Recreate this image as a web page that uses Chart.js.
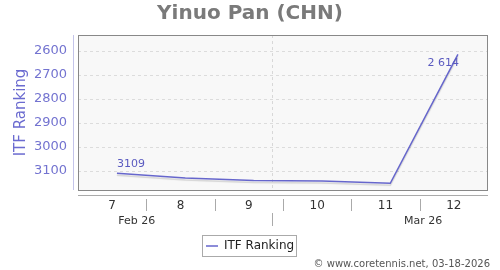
<!DOCTYPE html>
<html>
<head>
<meta charset="utf-8">
<script src="https://cdn.jsdelivr.net/npm/chart.js@4/dist/chart.umd.min.js"></script>
<style>
  html, body { margin: 0; padding: 0; background: #fff; }
  #wrap { width: 500px; height: 270px; position: relative; }
</style>
</head>
<body>
<div id="wrap"><canvas id="rankChart" width="500" height="270"></canvas></div>
<script>
// 資料：週次與 ITF 排名
const weekTicks = [7, 8, 9, 10, 11, 12];
const weekPos = [7.07, 8.07, 9.07, 10.07, 11.07, 12.06];
const itfRanking = [3109, 3129, 3139, 3142, 3151, 2614];
const rankTicks = [2600, 2700, 2800, 2900, 3000, 3100];
const monthLabels = ['Feb 26', 'Mar 26'];
const monthLabelPos = [7.36, 11.55];
const monthSplit = [9.34];

const lineColor = 'rgb(102, 102, 204)';
const FONT = 'DejaVu Sans, Verdana, sans-serif';

// 背景、外框、軸線、月份分隔等
const decoPlugin = {
  id: 'deco',
  beforeDraw(chart) {
    const { ctx, chartArea: a } = chart;
    ctx.save();
    ctx.fillStyle = '#f8f8f8';
    ctx.fillRect(a.left, a.top, a.right - a.left, a.bottom - a.top);
    ctx.restore();
  },
  beforeDatasetsDraw(chart) {
    const { ctx, chartArea: a, scales } = chart;
    ctx.save();
    // 月份分隔虛線
    ctx.strokeStyle = '#d8d8d8';
    ctx.setLineDash([3, 3]);
    ctx.lineWidth = 1;
    monthSplit.forEach(v => {
      const x = Math.round(scales.x.getPixelForValue(v)) + 0.5;
      ctx.beginPath(); ctx.moveTo(x, a.top); ctx.lineTo(x, a.bottom); ctx.stroke();
    });
    ctx.restore();
  },
  afterDraw(chart) {
    const { ctx, chartArea: a, scales } = chart;
    ctx.save();
    // 外框
    ctx.strokeStyle = '#888';
    ctx.lineWidth = 1;
    ctx.strokeRect(a.left + 0.5, a.top + 0.5, a.right - a.left - 1, a.bottom - a.top);
    // y 軸線
    ctx.strokeStyle = '#c4c4ea';
    ctx.beginPath(); ctx.moveTo(a.left - 4.5, a.top); ctx.lineTo(a.left - 4.5, a.bottom); ctx.stroke();
    // x 軸線
    ctx.strokeStyle = '#aaa';
    ctx.beginPath(); ctx.moveTo(a.left, a.bottom + 5.5); ctx.lineTo(a.right, a.bottom + 5.5); ctx.stroke();
    // 分隔刻度
    ctx.strokeStyle = '#aaa';
    for (let i = 0; i < weekTicks.length - 1; i++) {
      const x = Math.round(scales.x.getPixelForValue(weekTicks[i] + 0.5)) + 0.5;
      ctx.beginPath(); ctx.moveTo(x, a.bottom + 9); ctx.lineTo(x, a.bottom + 21); ctx.stroke();
    }
    // 月份分隔（軸下方）
    monthSplit.forEach(v => {
      const x = Math.round(scales.x.getPixelForValue(v)) + 0.5;
      ctx.beginPath(); ctx.moveTo(x, a.bottom + 23); ctx.lineTo(x, a.bottom + 36); ctx.stroke();
    });
    // 月份標籤
    ctx.fillStyle = '#333';
    ctx.font = '11px ' + FONT;
    ctx.textAlign = 'center';
    ctx.textBaseline = 'middle';
    monthLabels.forEach((t, i) => {
      ctx.fillText(t, scales.x.getPixelForValue(monthLabelPos[i]), a.bottom + 31);
    });
    // 資料標籤
    const meta = chart.getDatasetMeta(0);
    ctx.fillStyle = '#5a5ac0';
    ctx.font = '11px ' + FONT;
    const p0 = meta.data[0];
    ctx.textAlign = 'left';
    ctx.fillText(String(itfRanking[0]), p0.x, p0.y - 9);
    const pl = meta.data[itfRanking.length - 1];
    ctx.textAlign = 'right';
    ctx.fillText(itfRanking[itfRanking.length - 1].toLocaleString('fr-FR').replace(/\s/g, ' '), pl.x + 1, pl.y + 9);
    // 標題
    ctx.fillStyle = '#7a7a7a';
    ctx.font = 'bold 20px ' + FONT;
    ctx.textAlign = 'center';
    ctx.fillText('Yinuo Pan (CHN)', 250, 14);
    // 圖例
    ctx.strokeStyle = '#aaa';
    ctx.strokeRect(202.5, 235.5, 94, 21);
    ctx.strokeStyle = lineColor;
    ctx.lineWidth = 1.5;
    ctx.beginPath(); ctx.moveTo(206, 246); ctx.lineTo(218, 246); ctx.stroke();
    ctx.fillStyle = '#222';
    ctx.font = '12px ' + FONT;
    ctx.textAlign = 'left';
    ctx.fillText('ITF Ranking', 224, 246);
    // 版權
    ctx.fillStyle = '#555';
    ctx.font = '10px ' + FONT;
    ctx.textAlign = 'right';
    ctx.fillText('© www.coretennis.net, 03-18-2026', 490, 264);
    ctx.restore();
  }
};

// 線條陰影
const shadowPlugin = {
  id: 'lineShadow',
  beforeDatasetDraw(chart) {
    const ctx = chart.ctx;
    ctx.save();
    ctx.shadowColor = 'rgba(0,0,0,0.15)';
    ctx.shadowOffsetY = 2;
    ctx.shadowBlur = 1;
  },
  afterDatasetDraw(chart) {
    chart.ctx.restore();
  }
};

const ctxRank = document.getElementById('rankChart').getContext('2d');
const dataRank = {
  datasets: [{
    label: 'ITF Ranking',
    data: weekPos.map((x, i) => ({ x: x, y: itfRanking[i] })),
    borderColor: lineColor,
    backgroundColor: lineColor,
    borderWidth: 1.5,
    pointRadius: 0,
    tension: 0,
    fill: false
  }]
};

const configRank = {
  type: 'line',
  data: dataRank,
  options: {
    responsive: false,
    animation: false,
    devicePixelRatio: 1,
    layout: { padding: { left: 0, right: 12, top: 35, bottom: 0 } },
    plugins: {
      legend: { display: false },
      title: { display: false },
      tooltip: { enabled: false }
    },
    scales: {
      x: {
        type: 'linear',
        min: 6.5,
        max: 12.5,
        afterFit(scale) { scale.height = 80; },
        afterBuildTicks(scale) { scale.ticks = weekTicks.map(v => ({ value: v })); },
        ticks: {
          color: '#333',
          font: { family: FONT, size: 12 },
          padding: 9,
          maxRotation: 0
        },
        grid: { display: false, drawTicks: false },
        border: { display: false }
      },
      y: {
        reverse: true,
        min: 2533,
        max: 3179,
        afterFit(scale) { scale.width = 78; },
        afterBuildTicks(scale) { scale.ticks = rankTicks.map(v => ({ value: v })); },
        ticks: {
          color: '#7373d0',
          font: { family: FONT, size: 13 },
          padding: 11,
          callback: v => String(v)
        },
        grid: { color: '#dcdcdc', drawTicks: false, tickBorderDash: [3, 3] },
        border: { display: false, dash: [3, 3] },
        title: {
          display: true,
          text: 'ITF Ranking',
          color: '#6b6bd0',
          font: { family: FONT, size: 15 },
          padding: { top: 12, bottom: 0 }
        }
      }
    }
  },
  plugins: [decoPlugin, shadowPlugin]
};
const rankChart = new Chart(ctxRank, configRank);
</script>
</body>
</html>
